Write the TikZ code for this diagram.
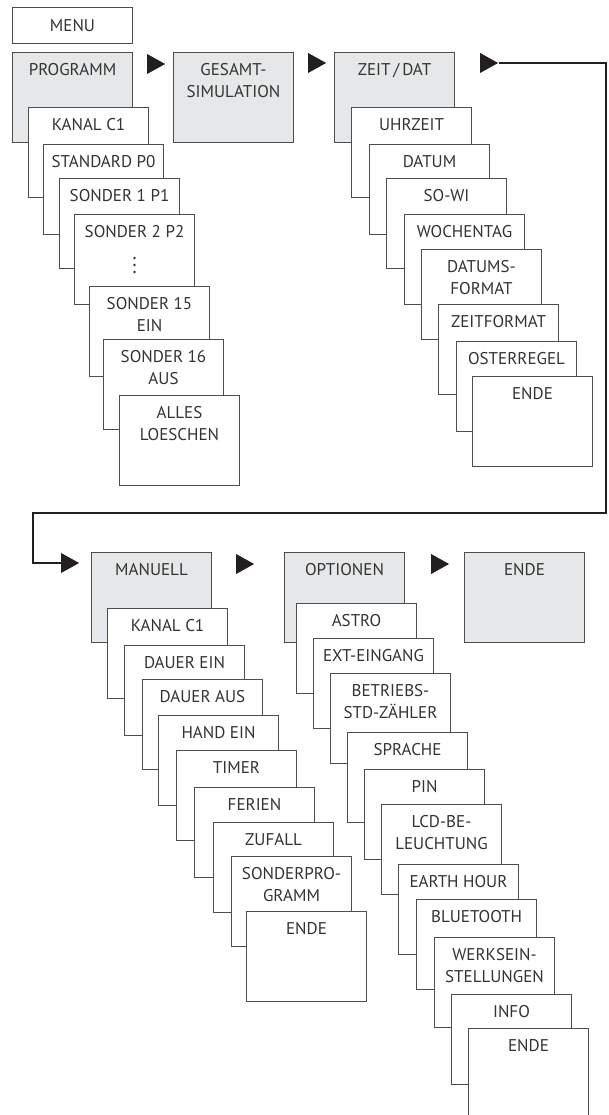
\documentclass[tikz,border=0pt]{standalone}
\usepackage{fontspec}
\setmainfont{PT Sans}
\usetikzlibrary{shapes.geometric}

\definecolor{graufill}{HTML}{E6E7E8}
\definecolor{rahmen}{HTML}{4D4D4D}
\definecolor{schrift}{HTML}{333333}
\definecolor{pfeilfarbe}{HTML}{231F20}

\tikzset{
  kasten/.style={draw=rahmen, line width=1pt, fill=white, anchor=north west,
    minimum width=120pt, minimum height=90pt, inner sep=0pt},
  hauptkasten/.style={kasten, fill=graufill},
  boxtext/.style={anchor=north, inner sep=0pt, yshift=-11.5pt, align=center,
    text=schrift, font=\fontsize{17}{22}\selectfont},
  pfeil/.style={isosceles triangle, isosceles triangle apex angle=58,
    fill=pfeilfarbe, inner sep=0pt, minimum height=18pt},
  schleife/.style={draw=pfeilfarbe, line width=2.5pt}
}

\begin{document}
\begin{tikzpicture}[x=1pt, y=-1pt]
\useasboundingbox (0,0) rectangle (608,1115);

% Menu header
\node[draw=rahmen, line width=1pt, anchor=north west, minimum width=120pt,
  minimum height=36pt, inner sep=0pt, text=schrift,
  font=\fontsize{17}{22}\selectfont] (menu) at (12,7) {MENU};

% Column PROGRAMM
\node[hauptkasten, label={[boxtext]north:PROGRAMM}] (programm) at (12,52) {};
\node[kasten, label={[boxtext]north:KANAL C1}] (kanalA) at (28,107) {};
\node[kasten, label={[boxtext]north:STANDARD P0}] (standard) at (43,144) {};
\node[kasten, label={[boxtext]north:SONDER 1 P1}] (sonderA) at (59,178) {};
\node[kasten, label={[boxtext]north:SONDER 2 P2}] (sonderB) at (74,214) {};
\foreach \dy in {44,51,58}
  \fill[schrift] (sonderB.north) ++(0,\dy) circle (1.4pt);
\node[kasten, label={[boxtext]north:SONDER 15\\EIN}] (sonderC) at (89,286) {};
\node[kasten, label={[boxtext]north:SONDER 16\\AUS}] (sonderD) at (103,339) {};
\node[kasten, label={[boxtext]north:ALLES\\LOESCHEN}] (loeschen) at (119,395) {};

% Column GESAMT-SIMULATION
\node[pfeil] (pfeilA) at (153,64) {};
\node[hauptkasten, label={[boxtext]north:GESAMT-\\SIMULATION}] (gesamt) at (173,52) {};

% Column ZEIT / DAT
\node[pfeil] (pfeilB) at (314,63) {};
\node[hauptkasten, label={[boxtext]north:ZEIT\,/\,DAT}] (zeit) at (334,52) {};
\node[kasten, label={[boxtext]north:UHRZEIT}] (uhrzeit) at (351,107) {};
\node[kasten, label={[boxtext]north:DATUM}] (datum) at (369,144) {};
\node[kasten, label={[boxtext]north:SO-WI}] (sowi) at (386,178) {};
\node[kasten, label={[boxtext]north:WOCHENTAG}] (wochentag) at (404,214) {};
\node[kasten, label={[boxtext]north:DATUMS-\\FORMAT}] (datumsformat) at (421,249) {};
\node[kasten, label={[boxtext]north:ZEITFORMAT}] (zeitformat) at (438,304) {};
\node[kasten, label={[boxtext]north:OSTERREGEL}] (osterregel) at (456,341) {};
\node[kasten, label={[boxtext]north:ENDE}] (zeitende) at (472,376) {};

% Loop down to the second row
\node[pfeil] (pfeilC) at (486,63) {};
\node[pfeil] (pfeilD) at (67,563) {};
\coordinate (rechts) at (606,513);
\coordinate (links) at (33,513);
\draw[schleife] (pfeilC.east) -| (rechts) -- (links) |- (pfeilD.west);

% Column MANUELL
\node[hauptkasten, label={[boxtext]north:MANUELL}] (manuell) at (91,552) {};
\node[kasten, label={[boxtext]north:KANAL C1}] (kanalB) at (107,608) {};
\node[kasten, label={[boxtext]north:DAUER EIN}] (dauerein) at (124,645) {};
\node[kasten, label={[boxtext]north:DAUER AUS}] (daueraus) at (142,679) {};
\node[kasten, label={[boxtext]north:HAND EIN}] (handein) at (158,715) {};
\node[kasten, label={[boxtext]north:TIMER}] (timer) at (176,750) {};
\node[kasten, label={[boxtext]north:FERIEN}] (ferien) at (194,787) {};
\node[kasten, label={[boxtext]north:ZUFALL}] (zufall) at (213,822) {};
\node[kasten, label={[boxtext]north:SONDERPRO-\\GRAMM}] (sonderprog) at (231,856) {};
\node[kasten, label={[boxtext]north:ENDE}] (manende) at (246,911) {};

% Column OPTIONEN
\node[pfeil] (pfeilE) at (242,564) {};
\node[hauptkasten, label={[boxtext]north:OPTIONEN}] (optionen) at (284,552) {};
\node[kasten, label={[boxtext]north:ASTRO}] (astro) at (296,603) {};
\node[kasten, label={[boxtext]north:EXT-EINGANG}] (exteingang) at (313,638) {};
\node[kasten, label={[boxtext]north:BETRIEBS-\\STD-ZÄHLER}] (betriebs) at (330,673) {};
\node[kasten, label={[boxtext]north:SPRACHE}] (sprache) at (347,732) {};
\node[kasten, label={[boxtext]north:PIN}] (pin) at (364,769) {};
\node[kasten, label={[boxtext]north:LCD-BE-\\LEUCHTUNG}] (lcd) at (381,804) {};
\node[kasten, label={[boxtext]north:EARTH HOUR}] (earth) at (398,864) {};
\node[kasten, label={[boxtext]north:BLUETOOTH}] (bluetooth) at (416,899) {};
\node[kasten, label={[boxtext]north:WERKSEIN-\\STELLUNGEN}] (werks) at (434,937) {};
\node[kasten, label={[boxtext]north:INFO}] (info) at (451,994) {};
\node[kasten, label={[boxtext]north:ENDE}] (optende) at (468,1028) {};

% Column ENDE
\node[pfeil] (pfeilF) at (437,564) {};
\node[hauptkasten, label={[boxtext]north:ENDE}] (ende) at (464,552) {};

\end{tikzpicture}
\end{document}
